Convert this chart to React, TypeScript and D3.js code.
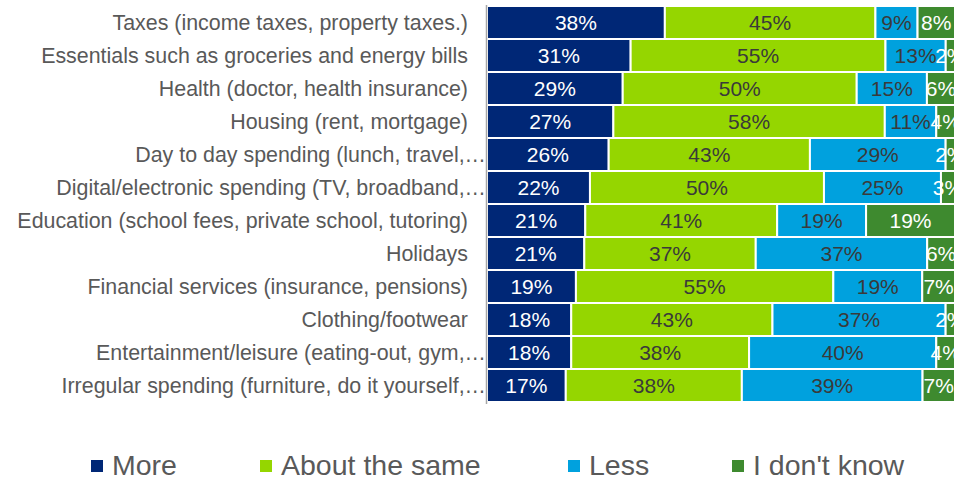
import React from "react";
import * as d3 from "d3";

const categories = [
  "Taxes (income taxes, property taxes.)",
  "Essentials such as groceries and energy bills",
  "Health (doctor, health insurance)",
  "Housing (rent, mortgage)",
  "Day to day spending (lunch, travel,…",
  "Digital/electronic spending (TV, broadband,…",
  "Education (school fees, private school, tutoring)",
  "Holidays",
  "Financial services (insurance, pensions)",
  "Clothing/footwear",
  "Entertainment/leisure (eating-out, gym,…",
  "Irregular spending (furniture, do it yourself,…",
];

const seriesNames = ["More", "About the same", "Less", "I don't know"];
const more = [38, 31, 29, 27, 26, 22, 21, 21, 19, 18, 18, 17];
const same = [45, 55, 50, 58, 43, 50, 41, 37, 55, 43, 38, 38];
const less = [9, 13, 15, 11, 29, 25, 19, 37, 19, 37, 40, 39];
const dontKnow = [8, 2, 6, 4, 2, 3, 19, 6, 7, 2, 4, 7];

const colors = ["#002776", "#95d600", "#00a1de", "#3e8a2f"];
const labelColors = ["#ffffff", "#3a3a3a", "#3a3a3a", "#ffffff"];

const W = 967;
const H = 478;
const FONT = "'Liberation Sans', Arial, sans-serif";

export default function App() {
  const seriesValues = [more, same, less, dontKnow];
  const rows = categories.map((c, i) => {
    const r: any = { category: c };
    seriesNames.forEach((s, k) => (r[s] = seriesValues[k][i]));
    return r;
  });
  const stack = d3.stack<any>().keys(seriesNames).offset(d3.stackOffsetExpand);
  const stacked = stack(rows);

  const x0 = 487;
  const x1 = 955;
  const x = d3.scaleLinear().domain([0, 1]).range([x0, x1]);
  const y = d3.scaleBand<string>().domain(categories).range([6, 402]).padding(0);

  const legendSquares = [91, 260, 568, 732];

  return (
    <svg width={W} height={H} style={{ position: "absolute", left: 0, top: 0, background: "#fff" }}>
      <defs>
        <clipPath id="plotclip">
          <rect x={x0} y={0} width={954 - x0} height={410} />
        </clipPath>
      </defs>
      <g>
        {stacked.map((s, k) =>
          s.map((d, i) => (
            <rect
              key={`r${k}-${i}`}
              x={x(d[0])}
              y={y(categories[i])}
              width={Math.max(0, x(d[1]) - x(d[0]))}
              height={y.bandwidth()}
              fill={colors[k]}
              stroke="#fff"
              strokeWidth={2}
            />
          ))
        )}
      </g>
      <g clipPath="url(#plotclip)">
        {stacked.map((s, k) =>
          s.map((d, i) => (
            <text
              key={`t${k}-${i}`}
              x={(x(d[0]) + x(d[1])) / 2}
              y={(y(categories[i]) as number) + y.bandwidth() / 2}
              dy="0.36em"
              textAnchor="middle"
              fontFamily={FONT}
              fontSize={21}
              fill={labelColors[k]}
            >
              {`${seriesValues[k][i]}%`}
            </text>
          ))
        )}
      </g>
      <line x1={486.5} x2={486.5} y1={5} y2={404} stroke="#a6a6a6" strokeWidth={1.5} />
      <g>
        {categories.map((c) => (
          <text
            key={c}
            x={c.endsWith("…") ? 486 : 468}
            y={(y(c) as number) + y.bandwidth() / 2}
            dy="0.36em"
            textAnchor="end"
            fontFamily={FONT}
            fontSize={21.4}
            fill="#595959"
          >
            {c}
          </text>
        ))}
      </g>
      <g>
        {seriesNames.map((s, k) => (
          <g key={s}>
            <rect x={legendSquares[k]} y={460} width={12} height={12} fill={colors[k]} />
            <text
              x={legendSquares[k] + 21}
              y={465}
              dy="0.36em"
              fontFamily={FONT}
              fontSize={28.5}
              fill="#595959"
            >
              {s}
            </text>
          </g>
        ))}
      </g>
    </svg>
  );
}
